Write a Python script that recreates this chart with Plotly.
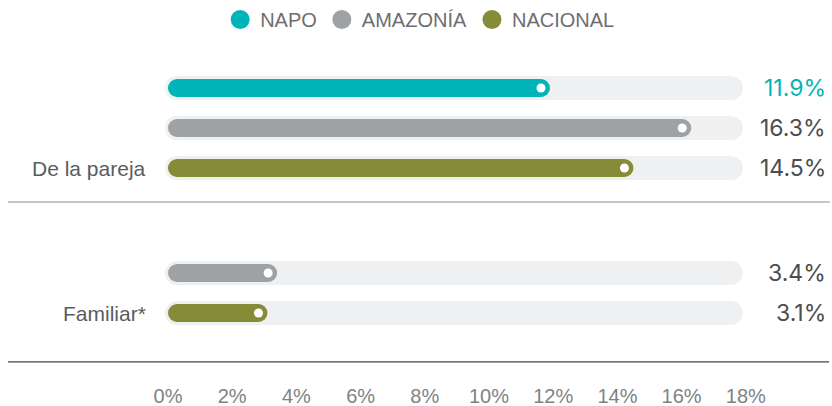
import plotly.graph_objects as go

# data
categories = ["De la pareja", "Familiar*"]
series_names = ["NAPO", "AMAZONÍA", "NACIONAL"]
napo = [11.9, None]
amazonia = [16.3, 3.4]
nacional = [14.5, 3.1]
tick_vals = [0, 2, 4, 6, 8, 10, 12, 14, 16, 18]
track_max = 18

series_values = [napo, amazonia, nacional]
colors = ["#00b5b9", "#9fa2a5", "#858b37"]

# layout constants (pixels)
W, H = 832, 406
PPU = 32.1          # pixels per percentage point
X0_PX = 168         # pixel where 0% sits
MB = 24
ROW_PX = 40
FIRST_ROW_PX = 88
GROUP_STEP = 3.625  # rows between groups
BAR_W = 18
TRACK_W = 24

def px(n):
    return n / PPU

def row_y(g, s):
    return g * GROUP_STEP + s

fig = go.Figure()

# background tracks
tx, ty = [], []
for g in range(len(categories)):
    for s in range(len(series_names)):
        if series_values[s][g] is None:
            continue
        y = row_y(g, s)
        tx += [px(BAR_W / 2), track_max - px(3 + TRACK_W / 2), None]
        ty += [y, y, None]
fig.add_trace(go.Scatter(
    x=tx, y=ty, mode="lines+markers",
    line=dict(color="#eff0f2", width=TRACK_W),
    marker=dict(color="#eff0f2", size=TRACK_W, line=dict(width=0)),
    showlegend=False, hoverinfo="skip", cliponaxis=False,
))

# value bars with rounded ends
dx, dy = [], []
for s, name in enumerate(series_names):
    bx, by = [], []
    for g in range(len(categories)):
        v = series_values[s][g]
        if v is None:
            continue
        y = row_y(g, s)
        bx += [px(BAR_W / 2), v - px(BAR_W / 2), None]
        by += [y, y, None]
        dx.append(v - px(BAR_W / 2))
        dy.append(y)
    fig.add_trace(go.Scatter(
        x=bx, y=by, mode="lines+markers",
        line=dict(color=colors[s], width=BAR_W),
        marker=dict(color=colors[s], size=BAR_W, line=dict(width=0)),
        showlegend=False, hoverinfo="skip", cliponaxis=False,
    ))

# white dots at bar ends
fig.add_trace(go.Scatter(
    x=dx, y=dy, mode="markers",
    marker=dict(color="white", size=9, line=dict(width=0)),
    showlegend=False, hoverinfo="skip", cliponaxis=False,
))

# legend entries
for s, name in enumerate(series_names):
    fig.add_trace(go.Scatter(
        x=[None], y=[None], mode="markers", name=name,
        marker=dict(color=colors[s], size=19,
                    line=dict(color=colors[s], width=3)),
    ))

# value labels
for g in range(len(categories)):
    for s in range(len(series_names)):
        v = series_values[s][g]
        if v is None:
            continue
        fig.add_annotation(
            x=(W - 4) / W, xref="paper", xanchor="right",
            y=row_y(g, s), yref="y", yanchor="middle",
            text=f"{v}%", showarrow=False,
            font=dict(family="Inter", size=23,
                      color=colors[0] if s == 0 else "#4d4d4f"),
        )

# category labels
for g, cat in enumerate(categories):
    fig.add_annotation(
        x=0, xref="x", xanchor="right", xshift=-20,
        y=row_y(g, len(series_names) - 1), yref="y", yanchor="middle",
        text=cat, showarrow=False,
        font=dict(family="Liberation Sans", size=21, color="#5b5c5e"),
    )

# separators
fig.add_shape(type="line", xref="paper", yref="y",
              x0=8 / W, x1=830 / W,
              y0=row_y(0, 2) + 0.85, y1=row_y(0, 2) + 0.85,
              line=dict(color="#b3b3b3", width=1.5))
fig.add_shape(type="line", xref="paper", yref="y",
              x0=8 / W, x1=829 / W,
              y0=row_y(1, 2) + 1.22, y1=row_y(1, 2) + 1.22,
              line=dict(color="#444444", width=1.2))

fig.update_xaxes(
    range=[-X0_PX / PPU, (W - X0_PX) / PPU],
    tickvals=tick_vals, ticktext=[f"{t}%" for t in tick_vals],
    tickfont=dict(family="Liberation Sans", size=20, color="#808285"),
    showgrid=False, zeroline=False, showline=False, ticks="",
    fixedrange=True,
)
fig.update_yaxes(
    range=[(H - MB - FIRST_ROW_PX) / ROW_PX, -FIRST_ROW_PX / ROW_PX],
    visible=False, fixedrange=True,
)

fig.update_layout(
    width=W, height=H,
    margin=dict(l=0, r=0, t=0, b=MB),
    plot_bgcolor="white", paper_bgcolor="white",
    legend=dict(
        orientation="h", x=0.505, xanchor="center", y=1.0, yanchor="top",
        font=dict(family="Liberation Sans", size=20, color="#6d6e71"),
        itemclick=False, itemdoubleclick=False,
    ),
)

fig.write_html(
    "out.html",
    config={"displayModeBar": False},
    post_script="document.body.style.margin='0';document.body.style.overflow='hidden';",
)
